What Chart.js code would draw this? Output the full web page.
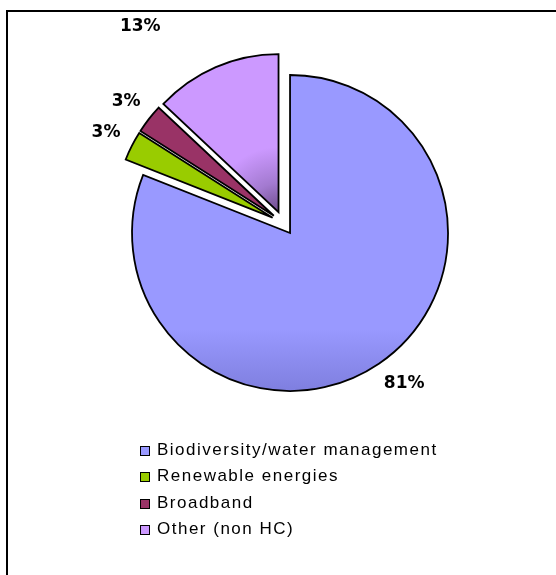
<!DOCTYPE html>
<html>
<head>
<meta charset="utf-8">
<script src="https://cdn.jsdelivr.net/npm/chart.js@4.4.1/dist/chart.umd.min.js"></script>
<style>
  body { margin: 0; background: #fff; overflow: hidden; }
  #wrap { position: relative; width: 556px; height: 575px; overflow: hidden; }
  #frame { position: absolute; left: 6px; top: 10px; right: 0; bottom: 0; border-top: 2px solid #000; border-left: 2px solid #000; }
  #pie { position: absolute; left: 0; top: 0; }
  #legend { position: absolute; left: 140px; top: 437px; font-family: "Liberation Sans", Arial, sans-serif; font-size: 17px; letter-spacing: 1.5px; color: #000; }
  #legend div { height: 26.3px; line-height: 26.3px; white-space: nowrap; }
  #legend span { display: inline-block; width: 8px; height: 8px; border: 1px solid #000; margin-right: 7px; vertical-align: -1px; }
</style>
</head>
<body>
<div id="wrap">
  <div id="frame"></div>
  <canvas id="pie" width="556" height="575"></canvas>
  <div id="legend"></div>
</div>
<script>
// categories and values (percent)
const categories = [
    "Biodiversity/water management",
    "Renewable energies",
    "Broadband",
    "Other (non HC)"
]

const shares = [81, 3, 3, 13]

const sliceColors = ["#9999FF", "#99CC00", "#993366", "#CC99FF"]

// pull every slice out a bit, like the exploded excel pie
const explodePlugin = {
    id: "explode",
    afterDatasetUpdate(chart, args, opts) {
        const meta = chart.getDatasetMeta(args.index);
        meta.data.forEach(function(arc) {
            const mid = (arc.startAngle + arc.endAngle) / 2;
            arc.x += Math.cos(mid) * opts.distance;
            arc.y += Math.sin(mid) * opts.distance;
        });
    }
}

// percent labels outside each slice
const pctLabels = {
    id: "pctLabels",
    afterDatasetsDraw(chart, args, opts) {
        const ctx = chart.ctx;
        const data = chart.data.datasets[0].data;
        const total = data.reduce(function(a, b) { return a + b; }, 0);
        ctx.save();
        ctx.font = "bold 17px 'DejaVu Sans', Verdana, sans-serif";
        ctx.fillStyle = "#000";
        ctx.textAlign = "center";
        ctx.textBaseline = "middle";
        chart.getDatasetMeta(0).data.forEach(function(arc, i) {
            const mid = (arc.startAngle + arc.endAngle) / 2;
            const d = arc.outerRadius + opts.gap;
            const nudge = opts.nudge[i] || { x: 0, y: 0 };
            ctx.fillText(Math.round(data[i] / total * 100) + "%",
                arc.x + Math.cos(mid) * d + nudge.x,
                arc.y + Math.sin(mid) * d + nudge.y);
        });
        ctx.restore();
    }
}

// slight excel style shading on the big slice and the "other" slice
function sliceFill(context) {
    const i = context.dataIndex;
    const area = context.chart.chartArea;
    if (!area) return sliceColors[i];
    const ctx = context.chart.ctx;
    const cx = (area.left + area.right) / 2;
    const cy = (area.top + area.bottom) / 2;
    if (i === 0) {
        const g = ctx.createLinearGradient(0, cy + 10, 0, cy + 170);
        g.addColorStop(0, "#9999FF");
        g.addColorStop(0.6, "#9999FF");
        g.addColorStop(1, "#7E7EDE");
        return g;
    }
    if (i === 3) {
        const px = cx - 5, py = cy - 11;
        const g = ctx.createRadialGradient(px, py, 0, px, py, 65);
        g.addColorStop(0, "#6E4C8C");
        g.addColorStop(0.45, "#A37AD0");
        g.addColorStop(1, "#CC99FF");
        return g;
    }
    return sliceColors[i];
}

new Chart("pie", {
    type: "pie",
    data: {
        labels: categories,
        datasets: [
            {
                data: shares,
                backgroundColor: sliceFill,
                borderColor: "#000",
                borderWidth: 1.8,
                borderJoinStyle: "miter"
            }
        ]
    },
    options: {
        responsive: false,
        animation: false,
        radius: 158,
        layout: {
            padding: { left: 10.6, right: 0, top: 0, bottom: 128.8 }
        },
        plugins: {
            legend: { display: false },
            tooltip: { enabled: false },
            explode: { distance: 12 },
            pctLabels: { gap: 29, nudge: { 0: { x: 9, y: -4 }, 3: { x: -64, y: -14 } } }
        }
    },
    plugins: [explodePlugin, pctLabels]
});

// legend built from the same arrays
const legend = document.getElementById("legend");
categories.forEach(function(name, i) {
    const row = document.createElement("div");
    const box = document.createElement("span");
    box.style.background = sliceColors[i];
    row.appendChild(box);
    row.appendChild(document.createTextNode(name));
    legend.appendChild(row);
});
</script>
</body>
</html>
